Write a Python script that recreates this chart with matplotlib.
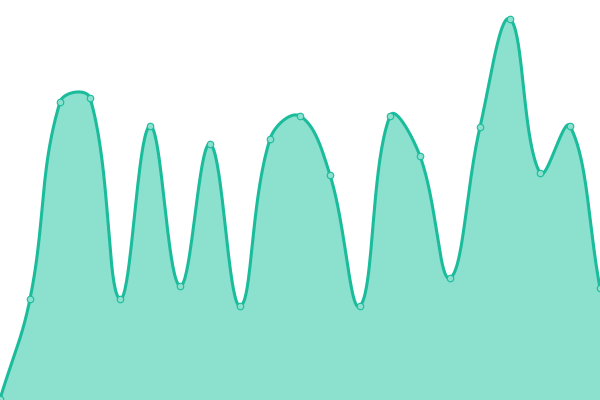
import numpy as np
import matplotlib
matplotlib.use('Agg')
import matplotlib.pyplot as plt

# Data: 21 evenly spaced samples (heights in chart units, 0-400)
x_vals = list(range(0, 601, 30))
y_vals = [1, 101, 298, 302, 101, 274, 114, 256, 94, 261, 284,
          225, 94, 284, 244, 122, 273, 381, 227, 274, 112]

LINE_COLOR = '#1abc9c'
FILL_COLOR = '#8be0ce'
TENSION = 0.4


def spline_controls(xs, ys, t=TENSION):
    """Chart.js-style control points for a smooth line through every point."""
    n = len(xs)
    cps = []
    for i in range(n):
        px, py = (xs[i - 1], ys[i - 1]) if i > 0 else (xs[i], ys[i])
        cx, cy = xs[i], ys[i]
        nx, ny = (xs[i + 1], ys[i + 1]) if i < n - 1 else (xs[i], ys[i])
        d01 = np.hypot(cx - px, cy - py)
        d12 = np.hypot(nx - cx, ny - cy)
        tot = d01 + d12
        s01 = d01 / tot if tot else 0
        s12 = d12 / tot if tot else 0
        fa, fb = t * s01, t * s12
        prev_cp = (cx - fa * (nx - px), cy - fa * (ny - py))
        next_cp = (cx + fb * (nx - px), cy + fb * (ny - py))
        cps.append((prev_cp, next_cp))
    return cps


def smooth_path(xs, ys, steps=40):
    cps = spline_controls(xs, ys)
    out_x, out_y = [xs[0]], [ys[0]]
    s = np.linspace(0, 1, steps)[1:]
    for i in range(len(xs) - 1):
        p0 = np.array([xs[i], ys[i]])
        p1 = np.array(cps[i][1])
        p2 = np.array(cps[i + 1][0])
        p3 = np.array([xs[i + 1], ys[i + 1]])
        for u in s:
            pt = ((1 - u) ** 3) * p0 + 3 * ((1 - u) ** 2) * u * p1 \
                + 3 * (1 - u) * u ** 2 * p2 + u ** 3 * p3
            out_x.append(pt[0])
            out_y.append(min(max(pt[1], 0), 400))
    return np.array(out_x), np.array(out_y)


fig = plt.figure(figsize=(6, 4), dpi=100)
ax = fig.add_axes([0, 0, 1, 1])
ax.set_xlim(0, 600)
ax.set_ylim(0, 400)
ax.axis('off')

sx, sy = smooth_path(x_vals, y_vals)
ax.fill_between(sx, sy, 0, color=FILL_COLOR, lw=0)
ax.plot(sx, sy, color=LINE_COLOR, lw=2.2, solid_capstyle='round')
ax.scatter(x_vals, y_vals, s=22, facecolor=FILL_COLOR, edgecolor=LINE_COLOR,
           linewidths=0.8, zorder=5, clip_on=False)

fig.savefig('out.png', dpi=100)
